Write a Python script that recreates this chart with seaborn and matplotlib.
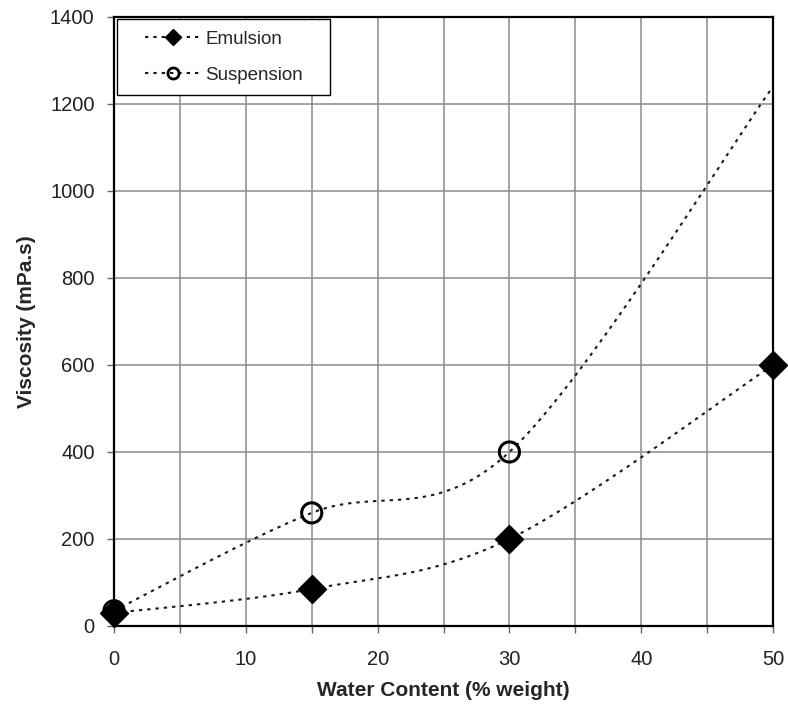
import numpy as np
import pandas as pd
import matplotlib
matplotlib.use("Agg")
import matplotlib.pyplot as plt
from matplotlib.lines import Line2D
from matplotlib.legend_handler import HandlerLine2D
import seaborn as sns

# Measured viscosity versus water content
water = [0, 15, 30, 50]
emulsion = [30, 85, 200, 600]
suspension = [35, 260, 400, 1240]
suspension_marked = [True, True, True, False]

x_ticks = [0, 10, 20, 30, 40, 50]
y_ticks = [0, 200, 400, 600, 800, 1000, 1200, 1400]


def smooth_curve(xs, ys, n=60):
    """Spreadsheet-style smoothed line: cubic Bezier segments whose
    control points follow the neighbouring points (tension 1/6)."""
    p = np.column_stack([xs, ys]).astype(float)
    pts = []
    for i in range(len(p) - 1):
        p0 = p[i - 1] if i > 0 else p[i]
        p1, p2 = p[i], p[i + 1]
        p3 = p[i + 2] if i + 2 < len(p) else p[i + 1]
        c1 = p1 + (p2 - p0) / 6.0
        c2 = p2 - (p3 - p1) / 6.0
        t = np.linspace(0, 1, n)[:, None]
        seg = ((1 - t) ** 3) * p1 + 3 * ((1 - t) ** 2) * t * c1 + 3 * (1 - t) * t ** 2 * c2 + t ** 3 * p2
        pts.append(seg if i == 0 else seg[1:])
    c = np.vstack(pts)
    return pd.DataFrame({"x": c[:, 0], "y": c[:, 1]})


class IndentedHandler(HandlerLine2D):
    """Legend line handle drawn with a blank lead-in on its left."""

    def __init__(self, indent=0.24, **kw):
        super().__init__(**kw)
        self.indent = indent

    def create_artists(self, legend, orig_handle, xdescent, ydescent,
                       width, height, fontsize, trans):
        shift = self.indent * width
        return super().create_artists(legend, orig_handle, xdescent - shift, ydescent,
                                      width - shift, height, fontsize, trans)


sns.set_theme(style="white")
plt.rcParams["font.family"] = ["Liberation Sans", "DejaVu Sans"]

fig = plt.figure(figsize=(7.88, 7.07), dpi=100)
ax = fig.add_axes([0.1447, 0.1146, 0.8363, 0.8614])

dot = (0, (1.6, 2.4))
line_kw = dict(color="#1a1a1a", linewidth=1.5, linestyle=dot)

emu_curve = smooth_curve(water, emulsion)
sus_curve = smooth_curve(water, suspension)
sns.lineplot(data=sus_curve, x="x", y="y", sort=False, estimator=None, ax=ax, **line_kw)
sns.lineplot(data=emu_curve, x="x", y="y", sort=False, estimator=None, ax=ax, **line_kw)

emu_df = pd.DataFrame({"x": water, "y": emulsion})
sus_df = pd.DataFrame({"x": water, "y": suspension, "m": suspension_marked})
sus_df = sus_df[sus_df["m"]]

sns.scatterplot(data=sus_df, x="x", y="y", ax=ax, marker="o", s=210,
                facecolor="none", edgecolor="black", linewidth=2.2, zorder=5, clip_on=False)
sns.scatterplot(data=emu_df, x="x", y="y", ax=ax, marker="D", s=200,
                color="black", edgecolor="black", zorder=6, clip_on=False)

ax.set_xlim(0, 50)
ax.set_ylim(0, 1400)
ax.set_xticks(x_ticks)
ax.set_xticks(np.arange(0, 51, 5), minor=True)
ax.set_yticks(y_ticks)
ax.grid(True, which="both", color="#8c8c8c", linewidth=1.1)
ax.set_axisbelow(True)

for s in ax.spines.values():
    s.set_color("black")
    s.set_linewidth(1.6)

ax.tick_params(axis="both", which="major", direction="out", length=5, width=1,
               color="#666666", labelsize=14.5, labelcolor="#222222", bottom=True, left=True)
ax.tick_params(axis="y", which="major", pad=9)
ax.tick_params(axis="x", which="major", pad=12)
ax.tick_params(axis="x", which="minor", direction="out", length=5, width=1,
               color="#666666", bottom=True)

ax.set_xlabel("Water Content (% weight)", fontsize=15, fontweight="bold", labelpad=9)
ax.set_ylabel("Viscosity (mPa.s)", fontsize=15, fontweight="bold", labelpad=10)

handles = [
    Line2D([], [], color="#1a1a1a", linewidth=1.5, linestyle=dot,
           marker="D", markersize=8, markerfacecolor="black", markeredgecolor="black"),
    Line2D([], [], color="#1a1a1a", linewidth=1.5, linestyle=dot,
           marker="o", markersize=8, markerfacecolor="none", markeredgecolor="black",
           markeredgewidth=2),
]
leg = ax.legend(handles, ["Emulsion", "Suspension"], loc="upper left",
                bbox_to_anchor=(0.004, 0.87, 0.323, 0.126), mode="expand",
                fontsize=13.5, frameon=True, fancybox=False,
                edgecolor="black", framealpha=1, borderpad=0.6, labelspacing=1.0,
                handlelength=3.85, handletextpad=0.27, borderaxespad=0,
                handler_map={Line2D: IndentedHandler()})
leg.get_frame().set_linewidth(1.0)

fig.savefig("out.png", dpi=100)
